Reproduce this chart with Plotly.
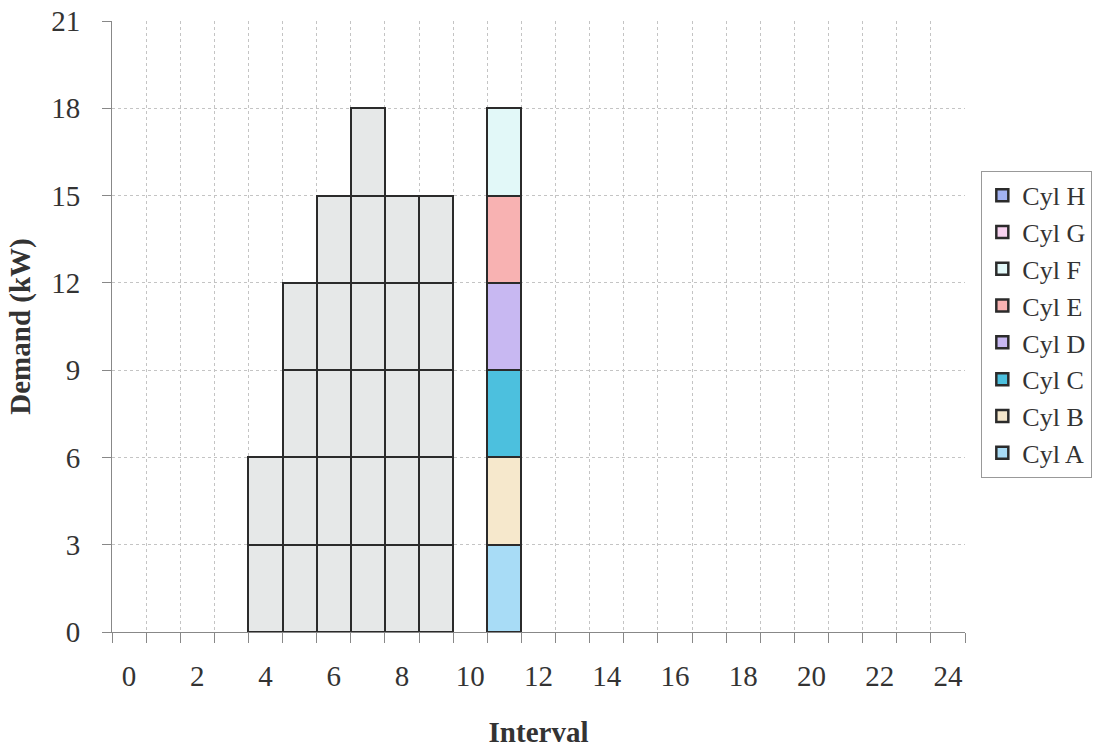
import plotly.graph_objects as go

# ---- data ----
intervals = [4, 5, 6, 7, 8, 9]          # intervals with grey (demand) blocks
schedule_interval = 11                    # interval showing the cylinder stack
cylinders = ["Cyl A", "Cyl B", "Cyl C", "Cyl D", "Cyl E", "Cyl F", "Cyl G", "Cyl H"]
# demand blocks (kW) per cylinder at intervals 4..9
grey_blocks = {
    "Cyl A": [3, 3, 3, 3, 3, 3],
    "Cyl B": [3, 3, 3, 3, 3, 3],
    "Cyl C": [0, 3, 3, 3, 3, 3],
    "Cyl D": [0, 3, 3, 3, 3, 3],
    "Cyl E": [0, 0, 3, 3, 3, 3],
    "Cyl F": [0, 0, 0, 3, 0, 0],
    "Cyl G": [0, 0, 0, 0, 0, 0],
    "Cyl H": [0, 0, 0, 0, 0, 0],
}
# cylinder stack (kW) at interval 11
stack_values = [3, 3, 3, 3, 3, 3, 0, 0]
cyl_colors = ["#a8dcf6", "#f6e8cc", "#4cc0de", "#c8b8f2", "#f8b2b2",
              "#e2f8f8", "#f8d2f0", "#a2b2f2"]
grey = "#e6e8e8"
outline = "#2b2b2b"

fig = go.Figure()
for i, cyl in enumerate(cylinders):
    fig.add_trace(go.Bar(
        x=intervals, y=grey_blocks[cyl], name=cyl,
        showlegend=False, width=1,
        marker=dict(color=grey, line=dict(color=outline, width=2.5)),
    ))
n = len(cylinders)
for i, cyl in enumerate(cylinders):
    fig.add_trace(go.Bar(
        x=[schedule_interval], y=[stack_values[i]], name=cyl,
        legendrank=n - i, legendgroup=cyl, width=1,
        marker=dict(color=cyl_colors[i], line=dict(color=outline, width=2.5)),
    ))

serif = "Liberation Serif, Times New Roman, serif"
fig.update_layout(
    width=1094, height=749,
    margin=dict(l=112, r=129, t=21, b=117),
    barmode="stack", bargap=0,
    plot_bgcolor="white", paper_bgcolor="white",
    font=dict(family=serif, color="#333333", size=29),
    legend=dict(
        xref="container", yref="container",
        x=0.897, y=0.772, xanchor="left", yanchor="top",
        traceorder="normal", itemwidth=30, tracegroupgap=0,
        bordercolor="#999999", borderwidth=1,
        font=dict(family=serif, size=26, color="#333333"),
    ),
    xaxis=dict(
        range=[-0.5, 24.5], tickvals=list(range(0, 25, 2)), automargin=False,
        showgrid=False, ticks="", zeroline=False,
        showline=True, linecolor="#888888", linewidth=1,
        minor=dict(tick0=0.5, dtick=1, showgrid=True, gridcolor="#c4c4c4",
                   griddash="dot", ticks="outside", ticklen=10, tickcolor="#888888"),
        title=dict(text="<b>Interval</b>", standoff=30, font=dict(size=29)),
        ticklabelstandoff=18,
    ),
    yaxis=dict(
        range=[0, 21], tickvals=list(range(0, 22, 3)), automargin=False,
        showgrid=True, gridcolor="#c4c4c4", griddash="dot",
        ticks="outside", ticklen=9, tickcolor="#888888", zeroline=False,
        showline=True, linecolor="#888888", linewidth=1,
        ticklabelstandoff=16,
        title=dict(text="<b>Demand (kW)</b>", standoff=12, font=dict(size=29)),
    ),
)

fig.write_html("out.html")
